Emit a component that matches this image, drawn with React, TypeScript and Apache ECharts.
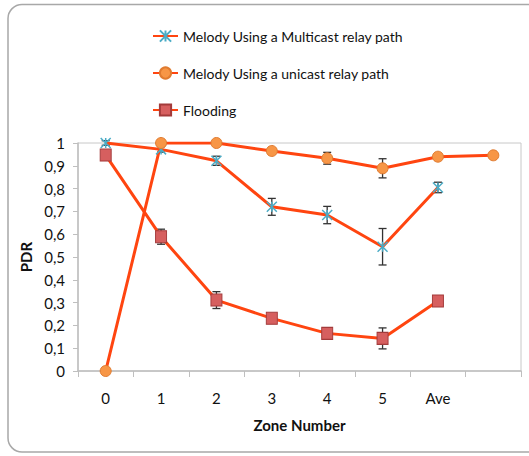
import React, { useEffect, useRef } from "react";
import * as echarts from "echarts";

const categories = ["0", "1", "2", "3", "4", "5", "Ave", ""];
const multicast = [1.0, 0.972, 0.922, 0.72, 0.684, 0.545, 0.805, null];
const multicastErr = [0.01, 0.012, 0.02, 0.037, 0.038, 0.08, 0.023, null];
const unicast = [0, 1.0, 1.0, 0.965, 0.933, 0.889, 0.94, 0.946];
const unicastErr = [0, 0, 0.004, 0.008, 0.026, 0.042, 0, 0];
const flooding = [0.947, 0.589, 0.311, 0.231, 0.165, 0.143, 0.307, null];
const floodingErr = [0.01, 0.033, 0.037, 0.02, 0.015, 0.046, 0.015, null];

const seriesNames = [
  "Melody Using a Multicast relay path",
  "Melody Using a unicast relay path",
  "Flooding",
];

const FONT = "Lato, 'Open Sans', sans-serif";
const LINE = "#FF4510";
const ASTERISK = "path://M0,0L10,10M10,0L0,10M5,0L5,10";

function errorSeries(values: (number | null)[], errs: (number | null)[]) {
  const data = values
    .map((v, i) => (v == null || errs[i] == null || errs[i] === 0 ? null : [i, v - (errs[i] as number), v + (errs[i] as number)]))
    .filter((d) => d != null);
  return {
    type: "custom",
    z: 1,
    silent: true,
    data,
    renderItem: (params: any, api: any) => {
      const x = api.value(0);
      const lo = api.coord([x, api.value(1)]);
      const hi = api.coord([x, api.value(2)]);
      const w = 4;
      const style = { stroke: "#333", lineWidth: 1.3 };
      return {
        type: "group",
        children: [
          { type: "line", shape: { x1: lo[0], y1: lo[1], x2: hi[0], y2: hi[1] }, style },
          { type: "line", shape: { x1: lo[0] - w, y1: lo[1], x2: lo[0] + w, y2: lo[1] }, style },
          { type: "line", shape: { x1: hi[0] - w, y1: hi[1], x2: hi[0] + w, y2: hi[1] }, style },
        ],
      };
    },
  };
}

export default function App() {
  const ref = useRef<HTMLDivElement>(null);
  useEffect(() => {
    const chart = echarts.init(ref.current!, null, { renderer: "svg" });
    chart.setOption({
      animation: false,
      backgroundColor: "#fff",
      textStyle: { fontFamily: FONT },
      graphic: [
        {
          type: "rect",
          shape: { x: 8, y: 4.5, width: 560, height: 447.5, r: 14 },
          style: { fill: "none", stroke: "#a8a8a8", lineWidth: 1.5 },
          z: -1,
        },
      ],
      legend: {
        orient: "vertical",
        left: 147,
        top: 24,
        itemWidth: 25,
        itemHeight: 14,
        itemGap: 23,
        textStyle: { fontSize: 14, color: "#111", fontFamily: FONT },
        data: seriesNames,
      },
      grid: {
        left: 78,
        right: 8,
        top: 143,
        bottom: 85,
        show: true,
        borderColor: "#c8c8c8",
        borderWidth: 1,
      },
      xAxis: {
        type: "category",
        data: categories,
        boundaryGap: true,
        name: "Zone Number",
        nameLocation: "middle",
        nameGap: 46,
        nameTextStyle: { fontSize: 15, fontWeight: "bold", color: "#111", fontFamily: FONT },
        axisLine: { lineStyle: { color: "#bfbfbf", width: 1.5 } },
        axisTick: { show: true, length: 6, interval: 0, lineStyle: { color: "#bfbfbf" } },
        axisLabel: { fontSize: 15, color: "#111", margin: 19, interval: 0, fontFamily: FONT },
        splitLine: { show: false },
      },
      yAxis: {
        type: "value",
        min: 0,
        max: 1,
        interval: 0.1,
        name: "PDR",
        nameLocation: "middle",
        nameRotate: 90,
        nameGap: 36,
        nameTextStyle: { fontSize: 15, fontWeight: "bold", color: "#111", fontFamily: FONT },
        axisLine: { show: true, lineStyle: { color: "#bfbfbf", width: 1.5 } },
        axisTick: { show: true, length: 5, lineStyle: { color: "#bfbfbf" } },
        axisLabel: {
          fontSize: 15,
          color: "#111",
          margin: 13,
          fontFamily: FONT,
          formatter: (v: number) => String(Math.round(v * 10) / 10).replace(".", ","),
        },
        splitLine: { show: false },
      },
      series: [
        {
          name: seriesNames[0],
          type: "line",
          z: 2,
          data: multicast,
          symbol: ASTERISK,
          symbolSize: 10,
          showAllSymbol: true,
          lineStyle: { color: LINE, width: 3 },
          itemStyle: { color: "#4BACC6", borderColor: "#4BACC6", borderWidth: 1.5 },
        },
        {
          name: seriesNames[1],
          type: "line",
          z: 2,
          data: unicast,
          symbol: "circle",
          symbolSize: 11,
          showAllSymbol: true,
          lineStyle: { color: LINE, width: 3 },
          itemStyle: { color: "#F79646", borderColor: "#E07B30", borderWidth: 1 },
        },
        {
          name: seriesNames[2],
          type: "line",
          z: 2,
          data: flooding,
          symbol: "rect",
          symbolSize: [11, 12],
          showAllSymbol: true,
          lineStyle: { color: LINE, width: 3 },
          itemStyle: { color: "#D65F5F", borderColor: "#A33B3B", borderWidth: 1 },
        },
        errorSeries(multicast, multicastErr),
        errorSeries(unicast, unicastErr),
        errorSeries(flooding, floodingErr),
      ],
    });
    return () => chart.dispose();
  }, []);
  return (
    <div
      ref={ref}
      style={{ position: "fixed", left: 0, top: 0, width: 529, height: 456 }}
    />
  );
}
